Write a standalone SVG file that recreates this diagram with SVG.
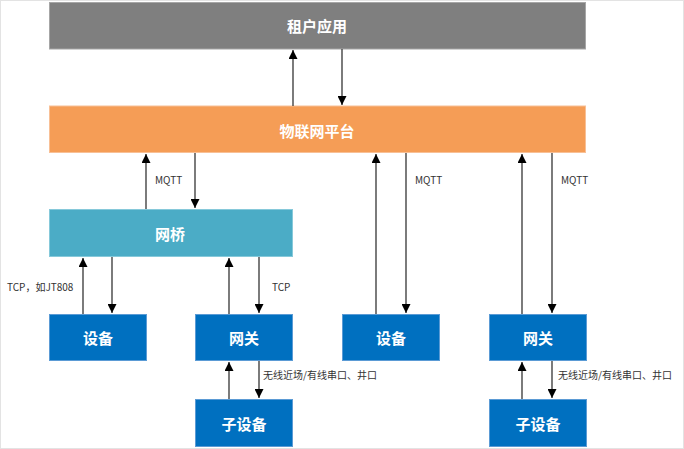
<svg xmlns="http://www.w3.org/2000/svg" width="684" height="449" viewBox="0 0 684 449">
<style>
.t{font-family:"Noto Sans CJK SC","Liberation Sans",sans-serif;font-size:15px;font-weight:bold;fill:#fff;text-anchor:middle;dominant-baseline:central}
.l{font-family:"Noto Sans CJK SC","Liberation Sans",sans-serif;font-size:10px;fill:#333;dominant-baseline:central}
.c line{stroke:#444;stroke-width:1.4}
.gray{fill:#7f7f7f;stroke:#a6a6a6}
.orange{fill:#f59d56;stroke:#f8c096}
.teal{fill:#4bacc6;stroke:#86c9da}
.blue{fill:#0070c0;stroke:#5b9bd5}
</style>
<defs>
<marker id="a" viewBox="0 0 10 10" refX="10" refY="5" markerWidth="11" markerHeight="9" markerUnits="userSpaceOnUse" orient="auto"><path d="M0,0L10,5L0,10z" fill="#000"/></marker>
</defs>
<rect x="0.5" y="0.5" width="683" height="448" fill="#fff" stroke="#e3e3e3"/>
<g id="app"><rect class="gray" x="49.5" y="2.5" width="536" height="46.5"/><text class="t" x="317" y="25">租户应用</text></g>
<g id="platform"><rect class="orange" x="49.5" y="106" width="536" height="46.5"/><text class="t" x="317" y="130">物联网平台</text></g>
<g id="bridge"><rect class="teal" x="49.5" y="209.5" width="243" height="47"/><text class="t" x="170" y="233">网桥</text></g>
<g id="dev1"><rect class="blue" x="49.5" y="314.5" width="97" height="46"/><text class="t" x="98" y="337">设备</text></g>
<g id="gw1"><rect class="blue" x="195.5" y="314.5" width="97" height="46"/><text class="t" x="244" y="337">网关</text></g>
<g id="dev2"><rect class="blue" x="342.5" y="314.5" width="97" height="46"/><text class="t" x="391" y="337">设备</text></g>
<g id="gw2"><rect class="blue" x="489.5" y="314.5" width="97" height="46"/><text class="t" x="538" y="337">网关</text></g>
<g id="sub1"><rect class="blue" x="195.5" y="399.5" width="97" height="47"/><text class="t" x="244" y="423">子设备</text></g>
<g id="sub2"><rect class="blue" x="489.5" y="399.5" width="97" height="47"/><text class="t" x="538" y="423">子设备</text></g>
<g id="connectors" class="c">
<line x1="293" y1="106" x2="293" y2="50" marker-end="url(#a)"/>
<line x1="342" y1="49" x2="342" y2="105" marker-end="url(#a)"/>
<line x1="146" y1="209" x2="146" y2="154" marker-end="url(#a)"/>
<line x1="195" y1="153" x2="195" y2="208" marker-end="url(#a)"/>
<line x1="376" y1="314" x2="376" y2="154" marker-end="url(#a)"/>
<line x1="406" y1="153" x2="406" y2="313" marker-end="url(#a)"/>
<line x1="522" y1="314" x2="522" y2="154" marker-end="url(#a)"/>
<line x1="552" y1="153" x2="552" y2="313" marker-end="url(#a)"/>
<line x1="83" y1="314" x2="83" y2="258" marker-end="url(#a)"/>
<line x1="112" y1="257" x2="112" y2="313" marker-end="url(#a)"/>
<line x1="229" y1="314" x2="229" y2="258" marker-end="url(#a)"/>
<line x1="259" y1="257" x2="259" y2="313" marker-end="url(#a)"/>
<line x1="229" y1="399" x2="229" y2="362" marker-end="url(#a)"/>
<line x1="259" y1="361" x2="259" y2="398" marker-end="url(#a)"/>
<line x1="522" y1="399" x2="522" y2="362" marker-end="url(#a)"/>
<line x1="552" y1="361" x2="552" y2="398" marker-end="url(#a)"/>
</g>
<g id="labels">
<text class="l" x="155" y="179">MQTT</text>
<text class="l" x="415" y="179">MQTT</text>
<text class="l" x="561" y="179">MQTT</text>
<text class="l" x="7" y="286">TCP，如JT808</text>
<text class="l" x="272" y="286">TCP</text>
<text class="l" x="263" y="374">无线近场/有线串口、井口</text>
<text class="l" x="558" y="374">无线近场/有线串口、井口</text>
</g>
</svg>
